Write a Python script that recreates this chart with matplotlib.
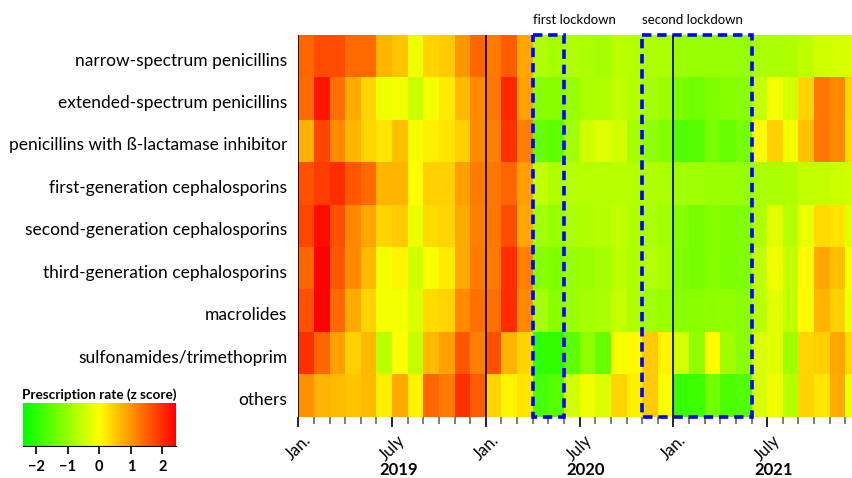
import numpy as np
import matplotlib
matplotlib.use("Agg")
import matplotlib.pyplot as plt
from matplotlib.colors import LinearSegmentedColormap
from matplotlib.patches import Rectangle
from matplotlib.transforms import blended_transform_factory

plt.rcParams['font.family'] = ['Lato', 'DejaVu Sans']

# drug classes, top to bottom
classes = ["narrow-spectrum penicillins", "extended-spectrum penicillins",
           "penicillins with ß-lactamase inhibitor", "first-generation cephalosporins",
           "second-generation cephalosporins", "third-generation cephalosporins",
           "macrolides", "sulfonamides/trimethoprim", "others"]

# monthly z scores, Jan 2019 .. Dec 2021
narrow = [1.45, 1.7, 1.7, 1.4, 1.4, 0.7, 0.55, -0.15, 0.4, 0.5, 1.0, 1.45,
          1.25, 1.55, 0.85, -0.75, -0.85, -0.75, -0.8, -0.85, -0.65, -0.7, -0.75, -0.8,
          -0.95, -1.0, -1.0, -1.0, -1.0, -0.8, -0.8, -0.75, -0.6, -0.45, -0.4, -0.35]
extended = [1.4, 2.2, 1.35, 0.8, 0.4, -0.15, -0.1, -0.5, -0.1, 0.2, 0.65, 1.1,
            1.3, 2.05, 0.9, -1.15, -1.15, -1.0, -0.8, -0.75, -0.6, -0.7, -0.85, -0.95,
            -1.25, -1.35, -1.2, -1.15, -1.1, -0.55, -0.1, -0.4, 0.4, 1.3, 1.1, 0.4]
inhibitor = [0.75, 1.75, 1.1, 0.7, 0.4, 0.25, 0.6, -0.1, 0.15, 0.25, 0.45, 1.1,
             1.2, 1.95, 1.2, -1.45, -1.55, -0.9, -0.45, -0.3, -0.45, -0.85, -1.05, -1.2,
             -1.65, -1.6, -1.3, -1.45, -1.3, -0.05, 0.45, -0.1, 0.6, 1.3, 1.1, 0.35]
ceph1 = [1.65, 1.85, 2.0, 1.6, 1.4, 0.7, 0.7, 0.0, 0.45, 0.45, 0.9, 1.25,
         1.3, 1.45, 0.9, -0.6, -0.75, -0.7, -0.7, -0.7, -0.65, -0.7, -0.75, -0.8,
         -0.9, -0.9, -0.95, -0.95, -1.0, -0.8, -0.8, -0.75, -0.6, -0.55, -0.5, -0.45]
ceph2 = [1.75, 2.3, 1.65, 1.15, 0.85, 0.4, 0.5, -0.2, 0.35, 0.4, 0.8, 1.2,
         1.3, 1.7, 0.85, -0.9, -1.0, -0.8, -0.75, -0.7, -0.6, -0.75, -0.8, -0.9,
         -1.15, -1.3, -1.15, -1.2, -1.2, -0.75, -0.3, -0.7, -0.2, 0.35, 0.25, -0.3]
ceph3 = [1.45, 2.4, 1.6, 1.1, 0.65, -0.1, 0.1, -0.45, -0.05, 0.2, 0.8, 1.25,
         1.25, 2.0, 1.2, -1.15, -1.2, -1.0, -0.95, -0.85, -0.65, -0.75, -0.7, -0.8,
         -1.2, -1.3, -1.15, -1.25, -1.2, -0.6, -0.15, -0.55, 0.05, 0.85, 0.6, -0.05]
macrolides = [1.65, 2.4, 1.4, 0.8, 0.4, -0.1, -0.1, -0.35, 0.35, 0.4, 1.1, 1.35,
              1.35, 2.0, 1.1, -0.85, -1.1, -0.95, -0.85, -0.8, -0.55, -0.75, -0.9, -0.95,
              -1.1, -1.1, -1.05, -1.05, -1.1, -0.65, -0.3, -0.55, 0.05, 0.7, 0.45, -0.15]
sulfonamides = [1.95, 1.45, 0.9, 0.45, 0.65, -0.65, 0.0, -0.55, 0.65, 0.9, 1.6, 1.2,
                1.65, 0.7, 0.4, -1.95, -1.95, -1.55, -1.05, -1.45, -0.1, 0.05, 0.5, 0.1,
                -0.4, -1.05, 0.0, -0.9, -1.1, -0.35, -0.3, -0.9, 0.4, 0.45, 0.85, 0.35]
others = [1.05, 0.7, 0.65, 0.55, 0.65, 0.15, 0.8, 0.1, 1.45, 1.25, 1.95, 1.55,
          0.4, 0.1, 0.25, -1.75, -1.6, -0.45, -0.15, -0.35, 0.4, 0.15, 0.5, -0.05,
          -1.9, -1.85, -1.35, -1.7, -1.65, -0.35, -0.15, -0.7, 0.4, 0.25, 0.8, -0.15]

years = ["2019", "2020", "2021"]
# lockdowns as (first month index, number of months)
lockdowns = [("first lockdown", 15, 2), ("second lockdown", 22, 7)]

z = np.array([narrow, extended, inhibitor, ceph1, ceph2, ceph3,
              macrolides, sulfonamides, others])
nrow, ncol = z.shape

W, H = 853, 478
fig = plt.figure(figsize=(W / 100, H / 100), dpi=100)

cmap = LinearSegmentedColormap.from_list("gyr", ["#00ff00", "#ffff00", "#ff0000"])
vmax = 2.42

ax = fig.add_axes([298.3 / W, 1 - 416.7 / H, ncol * 15.63 / W, (416.7 - 35) / H])
mesh = ax.pcolormesh(np.arange(ncol + 1), np.arange(nrow + 1), z,
                     cmap=cmap, vmin=-vmax, vmax=vmax)
ax.set_xlim(0, ncol)
ax.set_ylim(nrow, 0)
for s in ax.spines.values():
    s.set_visible(False)

# year separators
for x in [0, 12, 24]:
    ax.axvline(x, color="black", lw=1.2, zorder=3)

# lockdown boxes
for name, start, n in lockdowns:
    ax.add_patch(Rectangle((start, 0), n, nrow, fill=False, edgecolor="#0000ff",
                           lw=2.6, linestyle=(0, (2.6, 1.6)), zorder=4, clip_on=False))
    ax.text(start, -0.22, name, ha="left", va="bottom", fontsize=9.5)

# labels sit a little below the row centre, as in the original
ax.set_yticks(np.arange(nrow) + 0.57)
ax.set_yticklabels(classes, fontsize=12.5)
ax.tick_params(axis="y", length=0, pad=8)

ax.set_xticks([0, 6, 12, 18, 24, 30])
ax.set_xticklabels(["Jan.", "July"] * 3, rotation=45, ha="center", va="top",
                   fontsize=12)
ax.set_xticks(np.arange(ncol + 1), minor=True)
ax.tick_params(axis="x", which="major", length=7.5, width=1.2, color="black", pad=3.5)
ax.tick_params(axis="x", which="minor", length=5, width=1.2, color="#666666")

trans = blended_transform_factory(ax.transData, fig.transFigure)
for i, y in enumerate(years):
    ax.text(6.4 + 12 * i, 1 - 470 / H, y, transform=trans, ha="center", va="center",
            fontsize=12, fontweight="bold")

# colour bar
cax = fig.add_axes([22.7 / W, 1 - 446 / H, 153 / W, 43.3 / H])
cb = fig.colorbar(mesh, cax=cax, orientation="horizontal")
cb.outline.set_visible(False)
cax.spines["bottom"].set_visible(True)
cb.set_ticks([-2, -1, 0, 1, 2])
cb.set_ticklabels(["\u22122", "\u22121", "0", "1", "2"])
cax.tick_params(length=6, width=1.2, pad=4, labelsize=10.5)
for t in cax.get_xticklabels():
    t.set_fontweight("bold")
cax.set_title("Prescription rate (z score)", fontsize=9.8, fontweight="bold", pad=3)

fig.savefig("out.png", dpi=100)
